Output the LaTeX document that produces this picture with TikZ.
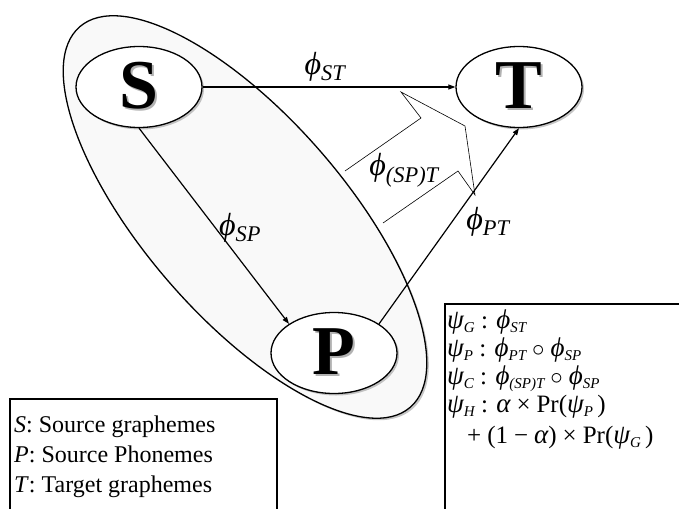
\documentclass[tikz,border=0pt]{standalone}
\usepackage{fontspec}
\setmainfont{Liberation Serif}
\usetikzlibrary{arrows.meta,shapes.geometric,shadows}

\newcommand\lo[1]{\textsubscript{\itshape #1}}
\newcommand\sm[1]{\raisebox{-4pt}{\fontsize{15}{15}\selectfont\itshape #1}}
\newcommand\gk[1]{{\fontsize{27}{27}\selectfont\itshape #1}}
\newcommand\shtext[1]{\makebox[0pt][l]{\hspace{2pt}\raisebox{-2pt}{\textcolor{gray!60}{#1}}}#1}
\newcommand\op[1]{\hspace{6pt}#1\hspace{6pt}}

\begin{document}
\begin{tikzpicture}[
  x=1pt,y=1pt,
  state/.style={draw,ellipse,line width=1.3pt,fill=white,minimum width=126pt,minimum height=81pt,inner sep=0pt,
    drop shadow={shadow xshift=2pt,shadow yshift=-2pt,opacity=0.45},
    font=\fontsize{70}{70}\selectfont\bfseries},
  trans/.style={-{Triangle[length=7pt,width=5pt]},line width=1.2pt},
  lbl/.style={font=\fontsize{32}{32}\selectfont\itshape},
  panel/.style={line width=1.3pt}
]
  \useasboundingbox (0,0) rectangle (679,-508);

  % grapheme-phoneme context
  \draw[line width=1.3pt,fill=gray!5,rotate around={-49:(245,-217)},
    drop shadow={shadow xshift=2pt,shadow yshift=-2pt,opacity=0.45}]
    (245,-217) ellipse (252 and 100);

  \node[state] (S) at (139,-87) {\shtext{S}};
  \node[state] (T) at (519,-87) {\shtext{T}};
  \node[state] (P) at (334,-353) {\shtext{P}};

  \draw[trans] (S) -- (T);
  \draw[trans] (S.south) -- (P.north west);
  \draw[trans] (P.north east) -- (T.south);

  % hollow arrow from the context
  \draw[line width=0.6pt] (345,-171) -- (421,-118) -- (401,-92) -- (465,-126)
    -- (475,-195) -- (458,-171) -- (383,-223);

  \node[lbl] (phiST) at (325,-67) {ϕ\lo{ST}};
  \node[lbl] (phiSP) at (240,-228) {ϕ\lo{SP}};
  \node[lbl] (phiPT) at (488,-222) {ϕ\lo{PT}};
  \node[lbl] (phiSPT) at (404,-170) {ϕ\lo{(SP)T}};

  % legend
  \draw[panel] (10,-399) rectangle (277,-530);
  \node[anchor=north west,align=left,inner sep=0pt,font=\fontsize{24}{30}\selectfont] (legend) at (14,-416)
    {\textit{S}: Source graphemes\\ \textit{P}: Source Phonemes\\ \textit{T}: Target graphemes};

  % models
  \draw[panel] (445,-304) rectangle (700,-530);
  \node[anchor=north west,align=left,inner sep=0pt,font=\fontsize{25}{28}\selectfont] (models) at (447,-310)
    {\gk{ψ}\sm{G} : \gk{ϕ}\sm{ST}\\
     \gk{ψ}\sm{P} : \gk{ϕ}\sm{PT}\op{$\circ$}\gk{ϕ}\sm{SP}\\
     \gk{ψ}\sm{C} : \gk{ϕ}\sm{(SP)T}\op{$\circ$}\gk{ϕ}\sm{SP}\\
     \gk{ψ}\sm{H} : \gk{α}\op{×}Pr(\gk{ψ}\sm{P}\,)\\[3pt]
     \hspace{20pt}+\hspace{6pt}(1\op{−}\gk{α})\op{×}Pr(\gk{ψ}\sm{G}\,)};
\end{tikzpicture}
\end{document}
